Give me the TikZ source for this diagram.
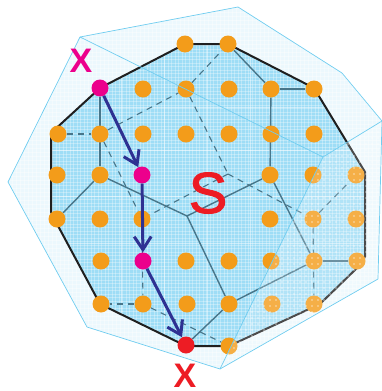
\documentclass[tikz,border=0pt]{standalone}
\usepackage{fontspec}
\setmainfont{Liberation Sans}
\newfontfamily\heavyS{Liberation Sans}[FakeBold=1.6]
\usetikzlibrary{backgrounds,arrows.meta}
\definecolor{sky}{RGB}{112,205,240}
\definecolor{palefill}{RGB}{236,248,253}
\definecolor{innerfill}{RGB}{158,221,246}
\definecolor{orangedot}{RGB}{243,156,26}
\definecolor{magentadot}{RGB}{236,0,140}
\definecolor{reddot}{RGB}{237,28,36}
\definecolor{navyarrow}{RGB}{46,49,146}
\definecolor{edgegray}{RGB}{72,118,138}
\tikzset{
  dot/.style={circle,fill=orangedot,draw=none,inner sep=0pt,minimum size=17pt},
  magdot/.style={dot,fill=magentadot},
  reddotnode/.style={dot,fill=reddot},
  solidedge/.style={draw=edgegray,line width=1.4pt},
  dashedge/.style={draw=edgegray,line width=1.1pt,dash pattern=on 6pt off 5pt},
  rim/.style={draw=black!88,line width=2pt,line join=round},
  thinblue/.style={draw=sky,line width=.7pt,line join=round},
  flow/.style={draw=navyarrow,line width=3pt,-{Straight Barb[length=13pt,width=17pt,line width=3pt]}},
  bigletter/.style={inner sep=0pt,anchor=base,font=\fontsize{34}{34}\selectfont\bfseries},
}
\def\outerpoly{(80,37) -- (238,7) -- (342,73) -- (382,121) -- (378,279) -- (220,369) -- (87,327) -- (8,182) -- cycle}
\def\rimpoly{(100,88) -- (185,44) -- (228,44) -- (314,88) -- (365,172) -- (365,257) -- (357,268) -- (322,302) -- (307,310) -- (229,346) -- (186,346) -- (100,304) -- (57,224) -- (51,212) -- (51,133) -- cycle}
\def\sectionpoly{(323,157) -- (382,121) -- (378,279) -- (220,369) -- cycle}
\begin{document}
\begin{tikzpicture}[x=1pt,y=-1pt]
\useasboundingbox (0,0) rectangle (382,391);
% nodes
\foreach \n/\x/\y in {a4/185/44,a5/228/44,
  b3/143/89,b4/186/89,b5/229/89,b6/271/89,b7/314/89,
  c1/58/134,c2/100/134,c3/143/134,c4/186/134,c5/229/134,c6/271/134,c7/314/134,
  d1/57/175,d2/100/175,d6/270/175,d7/313/175,d8/356/175,
  e1/57/219,e2/100/219,e3/142/219,e6/270/219,e7/313/219,e8/356/219,
  f2/101/261,f4/186/261,f5/229/261,f6/271/261,f7/314/261,f8/357/261,
  g2/101/304,g3/143/304,g4/187/304,g5/229/304,g6/272/304,g7/314/304,
  h5/229/346}
  \node[dot] (\n) at (\x,\y) {};
\node[magdot] (b2) at (100,88) {};
\node[magdot] (d3) at (142,175) {};
\node[magdot] (f3) at (143,261) {};
\node[reddotnode] (h4) at (186,345) {};
\coordinate (j1) at (187,216);
\coordinate (j2) at (228,174);
\begin{scope}[on background layer]
  \fill[palefill] \outerpoly;
  \begin{scope}
    \clip \outerpoly;
    \foreach \k in {0,4,...,392} {
      \draw[white,line width=.7pt,opacity=.4] (\k,0) -- (\k,391);
      \draw[white,line width=.7pt,opacity=.4] (0,\k) -- (382,\k);
    }
  \end{scope}
  \fill[innerfill] \rimpoly;
  \begin{scope}
    \clip \rimpoly;
    \foreach \k in {0,3.5,...,392} {
      \draw[white,line width=.8pt,opacity=.3] (\k,0) -- (\k,391);
      \draw[white,line width=.8pt,opacity=.3] (0,\k) -- (382,\k);
    }
    \foreach \k in {107,150,196,243} \draw[white,line width=1pt,opacity=.45] (0,\k) -- (382,\k);
    \foreach \k in {121,164,207,250} \draw[white,line width=1pt,opacity=.45] (\k,0) -- (\k,391);
  \end{scope}
  % hidden edges
  \draw[dashedge] (c1) -- (c2);
  \draw[dashedge] (c2) -- (e3);
  \draw[dashedge] (c2) -- (b4);
  \draw[dashedge] (b4) -- (a5);
  \draw[dashedge] (b4) -- (j2);
  \draw[dashedge] (j2) -- (e3);
  \draw[dashedge] (j2) -- (e7);
  \draw[dashedge] (e7) -- (d8);
  \draw[dashedge] (e7) -- (g7);
  \draw[dashedge] (e3) -- (g3);
  \draw[dashedge] (g3) -- (g2);
  \draw[dashedge] (g3) -- (h5);
  % visible edges
  \draw[solidedge] (b2) -- (d2);
  \draw[solidedge] (d2) -- (e1);
  \draw[solidedge] (d2) -- (j1);
  \draw[solidedge] (j1) -- (d6);
  \draw[solidedge] (j1) -- (g5);
  \draw[solidedge] (g5) -- (h4);
  \draw[solidedge] (g5) -- (f7);
  \draw[solidedge] (f7) -- (d6);
  \draw[solidedge] (f7) -- (f8);
  \draw[solidedge] (d6) -- (b6);
  \draw[solidedge] (b6) -- (b7);
  \draw[solidedge] (b6) -- (a5);
  \draw[rim] \rimpoly;
\end{scope}
% lighter right-hand section lies over everything behind it
\begin{scope}
  \clip \sectionpoly;
  \fill[white,opacity=.2] \sectionpoly;
  \fill[white,opacity=.6]
    \foreach \i in {34,...,64} { \foreach \j in {20,...,62} { ({\i*6},{\j*6}) circle (.9pt) } };
\end{scope}
% thin outlines
\draw[thinblue] \outerpoly;
\draw[thinblue] (80,37) -- (323,157) -- (382,121);
\draw[thinblue] (323,157) -- (220,369);
% flow
\draw[flow] (b2) -- (d3);
\draw[flow] (d3) -- (f3);
\draw[flow] (f3) -- (h4);
% labels
\node[bigletter,text=magentadot] (xtop) at (81,72) {X};
\node[bigletter,text=reddot] (xbot) at (185,387) {X};
\node[inner sep=0pt,anchor=base,text=reddot,font=\fontsize{58}{58}\selectfont\heavyS] (setS) at (208,213) {S};
\end{tikzpicture}
\end{document}
